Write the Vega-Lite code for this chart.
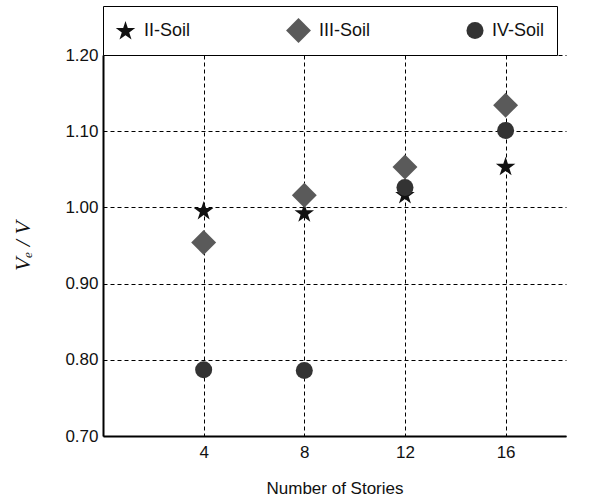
{
  "$schema": "https://vega.github.io/schema/vega-lite/v6.json",
  "width": 463,
  "height": 381,
  "autosize": {"type": "none"},
  "padding": {"left": 103, "top": 55, "right": 27, "bottom": 63},
  "background": "white",
  "config": {
    "view": {"stroke": null},
    "font": "Liberation Sans"
  },
  "data": {
    "values": [
      {"stories": 4, "soil": "II-Soil", "ratio": 0.995},
      {"stories": 8, "soil": "II-Soil", "ratio": 0.992},
      {"stories": 12, "soil": "II-Soil", "ratio": 1.016},
      {"stories": 16, "soil": "II-Soil", "ratio": 1.053},
      {"stories": 4, "soil": "III-Soil", "ratio": 0.954},
      {"stories": 8, "soil": "III-Soil", "ratio": 1.016},
      {"stories": 12, "soil": "III-Soil", "ratio": 1.053},
      {"stories": 16, "soil": "III-Soil", "ratio": 1.134},
      {"stories": 4, "soil": "IV-Soil", "ratio": 0.787},
      {"stories": 8, "soil": "IV-Soil", "ratio": 0.786},
      {"stories": 12, "soil": "IV-Soil", "ratio": 1.026},
      {"stories": 16, "soil": "IV-Soil", "ratio": 1.101}
    ]
  },
  "mark": {"type": "point", "filled": true, "opacity": 1, "strokeWidth": 0},
  "encoding": {
    "x": {
      "field": "stories",
      "type": "quantitative",
      "scale": {"domain": [0, 18.4], "nice": false, "zero": false},
      "axis": {
        "values": [4, 8, 12, 16],
        "title": "Number of Stories",
        "titleFont": "Liberation Sans",
        "titleFontSize": 17,
        "titleFontWeight": "normal",
        "titleColor": "#111",
        "titlePadding": 20,
        "labelFont": "Liberation Sans",
        "labelFontSize": 17,
        "labelColor": "#111",
        "labelPadding": 8,
        "ticks": false,
        "domainColor": "#000",
        "domainWidth": 2,
        "grid": true,
        "gridColor": "#000",
        "gridDash": [4, 3],
        "gridWidth": 1,
        "gridOpacity": 1
      }
    },
    "y": {
      "field": "ratio",
      "type": "quantitative",
      "scale": {"domain": [0.7, 1.2], "nice": false, "zero": false},
      "axis": {
        "values": [0.7, 0.8, 0.9, 1.0, 1.1, 1.2],
        "format": ".2f",
        "title": "Vₑ / V",
        "titleFont": "Liberation Serif",
        "titleFontStyle": "italic",
        "titleFontSize": 22,
        "titleFontWeight": "normal",
        "titleColor": "#111",
        "titlePadding": 30,
        "labelFont": "Liberation Sans",
        "labelFontSize": 17,
        "labelColor": "#111",
        "labelPadding": 5,
        "ticks": false,
        "domainColor": "#000",
        "domainWidth": 2,
        "grid": true,
        "gridColor": "#000",
        "gridDash": [4, 3],
        "gridWidth": 1,
        "gridOpacity": 1
      }
    },
    "shape": {
      "field": "soil",
      "type": "nominal",
      "scale": {
        "domain": ["II-Soil", "III-Soil", "IV-Soil"],
        "range": [
          "M0,-1L0.2245,-0.309L0.951,-0.309L0.363,0.118L0.588,0.809L0,0.382L-0.588,0.809L-0.363,0.118L-0.951,-0.309L-0.2245,-0.309Z",
          "diamond",
          "circle"
        ]
      },
      "legend": {
        "orient": "top",
        "direction": "horizontal",
        "title": null,
        "offset": 0,
        "strokeColor": "#000",
        "padding": 12,
        "columnPadding": 95,
        "labelFont": "Liberation Sans",
        "labelFontSize": 18,
        "labelColor": "#111",
        "labelOffset": 8,
        "symbolStrokeWidth": 0
      }
    },
    "size": {
      "field": "soil",
      "type": "nominal",
      "scale": {"type": "ordinal", "domain": ["II-Soil", "III-Soil", "IV-Soil"], "range": [420, 620, 290]}
    },
    "color": {
      "field": "soil",
      "type": "nominal",
      "scale": {"domain": ["II-Soil", "III-Soil", "IV-Soil"], "range": ["#111111", "#5a5a5a", "#333333"]}
    }
  }
}
